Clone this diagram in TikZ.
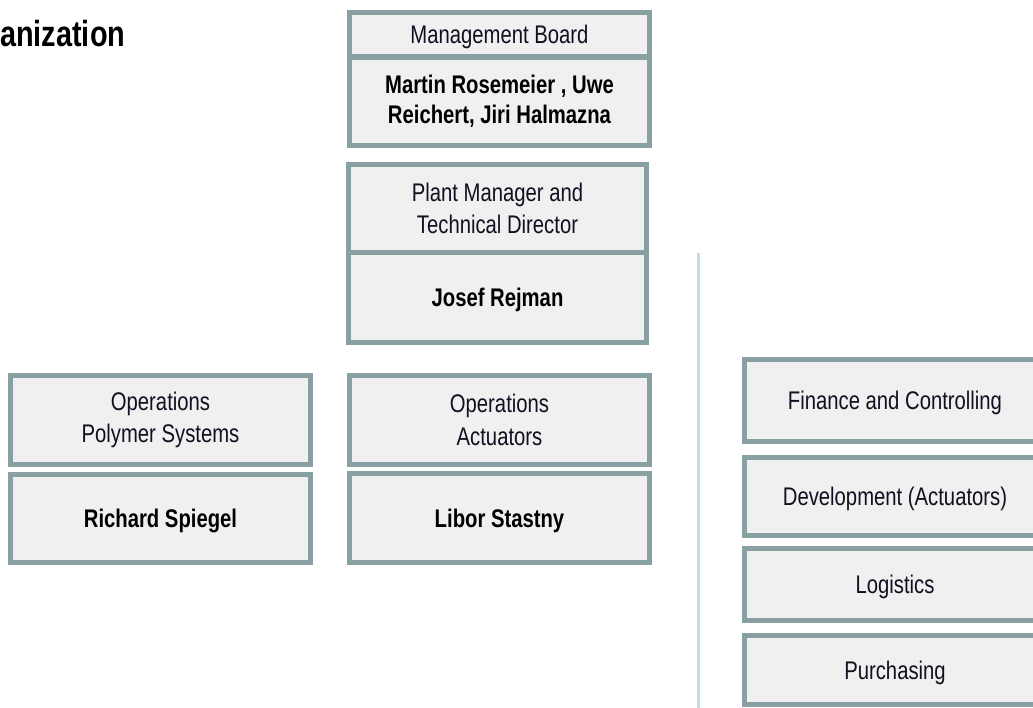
\documentclass[tikz,border=0pt]{standalone}
\usepackage{fontspec}
\setmainfont{Liberation Sans}[FakeStretch=0.795]
\definecolor{boxline}{HTML}{88A0A2}
\definecolor{boxfill}{HTML}{F0F0F0}
\definecolor{sepline}{HTML}{BDE0E6}
\definecolor{labeltext}{HTML}{101020}
\tikzset{
  unitbox/.style 2 args={draw=boxline, line width=5pt, fill=boxfill,
    rectangle, inner sep=0pt, outer sep=0pt,
    minimum width=#1, minimum height=#2,
    align=center, text=labeltext,
    font=\fontsize{25.5}{32.5}\selectfont},
  namebox/.style 2 args={unitbox={#1}{#2},
    font=\fontsize{25.5}{30}\selectfont\bfseries, text=black},
  oneline/.style={text height=18.3pt, text depth=0pt},
  heading/.style={anchor=base west, inner sep=0pt,
    font=\fontsize{36.3}{42}\selectfont\bfseries, text=black},
  separator/.style={draw=sepline, line width=3pt}
}
\begin{document}
\begin{tikzpicture}[x=1pt, y=-1pt]
  \path[use as bounding box] (0,0) rectangle (1033,708);
  \clip (0,0) rectangle (1033,708);

  % heading
  \node[heading] (title) at (0,47) {anization};

  % management board
  \node[unitbox={300pt}{44pt}, oneline] (mbTitle) at (499.5,34.5) {Management Board};
  \node[namebox={300pt}{88pt}] (mbNames) at (499.5,101.5)
    {Martin Rosemeier , Uwe\\Reichert, Jiri Halmazna};

  % plant manager
  \node[unitbox={298pt}{88pt}] (pmTitle) at (497.5,208.5)
    {Plant Manager and\\Technical Director};
  \node[namebox={298pt}{90pt}, oneline] (pmName) at (497.5,297.5) {Josef Rejman};

  % operations: polymer systems
  \node[unitbox={300pt}{89pt}] (opsPolyTitle) at (160.5,420)
    {Operations\\Polymer Systems};
  \node[namebox={300pt}{88pt}, oneline] (opsPolyName) at (160.5,518.5) {Richard Spiegel};

  % operations: actuators
  \node[unitbox={300pt}{89pt}] (opsActTitle) at (499.5,420)
    {Operations\\Actuators};
  \node[namebox={300pt}{89pt}, oneline] (opsActName) at (499.5,518) {Libor Stastny};

  % separator between line and staff functions
  \coordinate (sepTop) at (698,253);
  \coordinate (sepBot) at (698,708);
  \draw[separator] (sepTop) -- (sepBot);

  % staff functions
  \node[unitbox={301pt}{82pt}, oneline] (finance) at (895,400.5) {Finance and Controlling};
  \node[unitbox={301pt}{78pt}, oneline] (development) at (895,496.5) {Development (Actuators)};
  \node[unitbox={301pt}{72pt}, oneline] (logistics) at (895,584.5) {Logistics};
  \node[unitbox={301pt}{69pt}, oneline] (purchasing) at (895,670) {Purchasing};
\end{tikzpicture}
\end{document}
